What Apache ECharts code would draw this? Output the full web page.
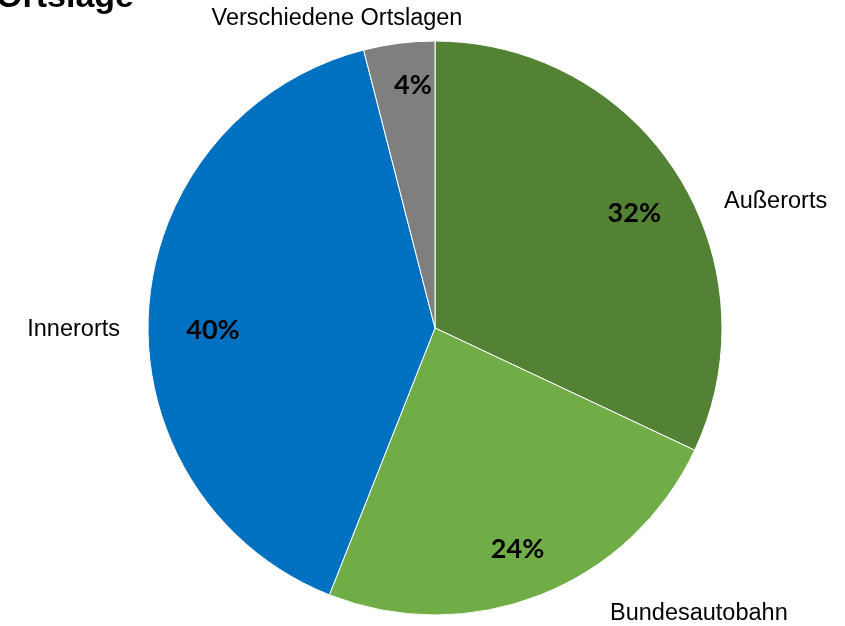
<!DOCTYPE html>
<html>
<head>
<meta charset="utf-8">
<script src="https://cdn.jsdelivr.net/npm/echarts@6/dist/echarts.min.js"></script>
<style>
  html, body { margin: 0; padding: 0; background: #fff; }
  #chart { width: 845px; height: 626px; }
</style>
</head>
<body>
<div id="chart"></div>
<script>
// Ortslage - Anteile
var categories = ['Außerorts', 'Bundesautobahn', 'Innerorts', 'Verschiedene Ortslagen'];
var values = [32, 24, 40, 4];
var colors = ['#548235', '#70AD47', '#0070C0', '#7F7F7F'];

// Beschriftungen außen (x, y, align)
var outerLabelPos = [
  [724, 202, 'left'],
  [610, 614, 'left'],
  [120, 330, 'right'],
  [337, 19, 'center']
];
// kleine Verschiebung der Prozentwerte
var innerLabelShift = [[3, 10], [-3, 5], [10, 17], [7, -12]];

var pieData = [];
for (var i = 0; i < categories.length; i++) {
  pieData.push({
    name: categories[i],
    value: values[i],
    itemStyle: { color: colors[i] }
  });
}

var myChart = echarts.init(document.getElementById('chart'));
var option = {
  animation: false,
  graphic: [{
    type: 'text',
    style: {
      text: 'Ortslage',
      x: 134,
      y: -2,
      textAlign: 'right',
      textVerticalAlign: 'middle',
      font: 'bold 34px "Liberation Sans", Arial, sans-serif',
      fill: '#000'
    }
  }],
  series: [{
      name: 'Ortslage',
      type: 'pie',
      center: [435, 328],
      radius: [0, 287],
      startAngle: 90,
      clockwise: true,
      avoidLabelOverlap: false,
      itemStyle: {
        borderColor: '#fff',
        borderWidth: 1
      },
      label: {
        show: true,
        position: 'outside',
        formatter: '{b}',
        color: '#000',
        fontSize: 23.5,
        fontFamily: '"Liberation Sans", Arial, sans-serif'
      },
      labelLine: { show: false },
      labelLayout: function (p) {
        var pos = outerLabelPos[p.dataIndex];
        return { x: pos[0], y: pos[1], align: pos[2], verticalAlign: 'middle' };
      },
      emphasis: { disabled: true },
      data: pieData
    },
    {
      name: 'Prozent',
      type: 'pie',
      center: [435, 328],
      radius: [0, 459],
      startAngle: 90,
      clockwise: true,
      silent: true,
      avoidLabelOverlap: false,
      itemStyle: { color: 'transparent' },
      label: {
        show: true,
        position: 'inside',
        formatter: '{d}%',
        color: '#000',
        fontSize: 27,
        fontWeight: 'bold',
        fontFamily: 'Lato, "Open Sans", sans-serif'
      },
      labelLine: { show: false },
      labelLayout: function (p) {
        var s = innerLabelShift[p.dataIndex];
        return { dx: s[0], dy: s[1] };
      },
      emphasis: { disabled: true },
      data: values.map(function (v, i) { return { name: categories[i], value: v }; })
    }
  ]
};
myChart.setOption(option);

window.addEventListener('resize', function () {
  myChart.resize();
});
</script>
</body>
</html>
